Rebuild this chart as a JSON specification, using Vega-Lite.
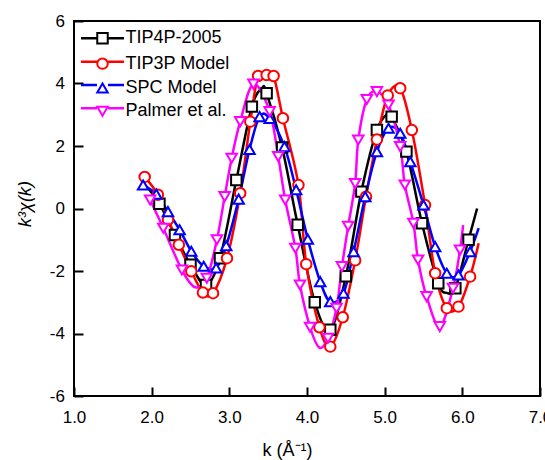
{
  "$schema": "https://vega.github.io/schema/vega-lite/v6.json",
  "width": 466,
  "height": 375,
  "autosize": "none",
  "padding": {"left": 74, "top": 21, "right": 5, "bottom": 64},
  "config": {
    "font": "Liberation Sans",
    "view": {"stroke": "#000000", "strokeWidth": 2},
    "axis": {"grid": false, "domain": false, "ticks": true, "tickColor": "#000000", "tickWidth": 2, "tickSize": 9, "offset": -9, "labelFontSize": 17, "labelColor": "black", "titleColor": "black", "titleFontSize": 18, "titleFontWeight": "normal", "labelFlush": false}
  },
  "datasets": {
    "markers": [
      {"s": "TIP4P-2005", "k": 2.10, "v": 0.15}, {"s": "TIP4P-2005", "k": 2.30, "v": -0.85}, {"s": "TIP4P-2005", "k": 2.50, "v": -1.80}, {"s": "TIP4P-2005", "k": 2.70, "v": -2.45}, {"s": "TIP4P-2005", "k": 2.88, "v": -1.59}, {"s": "TIP4P-2005", "k": 3.09, "v": 0.91}, {"s": "TIP4P-2005", "k": 3.29, "v": 3.26}, {"s": "TIP4P-2005", "k": 3.48, "v": 3.69}, {"s": "TIP4P-2005", "k": 3.68, "v": 1.95}, {"s": "TIP4P-2005", "k": 3.88, "v": -0.52}, {"s": "TIP4P-2005", "k": 4.10, "v": -3.00}, {"s": "TIP4P-2005", "k": 4.30, "v": -3.88}, {"s": "TIP4P-2005", "k": 4.50, "v": -2.17}, {"s": "TIP4P-2005", "k": 4.70, "v": 0.54}, {"s": "TIP4P-2005", "k": 4.90, "v": 2.51}, {"s": "TIP4P-2005", "k": 5.09, "v": 2.94}, {"s": "TIP4P-2005", "k": 5.28, "v": 1.82}, {"s": "TIP4P-2005", "k": 5.48, "v": -0.47}, {"s": "TIP4P-2005", "k": 5.69, "v": -2.39}, {"s": "TIP4P-2005", "k": 5.91, "v": -2.55}, {"s": "TIP4P-2005", "k": 6.08, "v": -1.00},
      {"s": "TIP3P Model", "k": 1.91, "v": 1.01}, {"s": "TIP3P Model", "k": 2.08, "v": 0.44}, {"s": "TIP3P Model", "k": 2.21, "v": -0.36}, {"s": "TIP3P Model", "k": 2.35, "v": -1.16}, {"s": "TIP3P Model", "k": 2.51, "v": -2.01}, {"s": "TIP3P Model", "k": 2.66, "v": -2.69}, {"s": "TIP3P Model", "k": 2.79, "v": -2.71}, {"s": "TIP3P Model", "k": 2.97, "v": -1.59}, {"s": "TIP3P Model", "k": 3.14, "v": 0.49}, {"s": "TIP3P Model", "k": 3.27, "v": 2.78}, {"s": "TIP3P Model", "k": 3.37, "v": 4.24}, {"s": "TIP3P Model", "k": 3.48, "v": 4.27}, {"s": "TIP3P Model", "k": 3.57, "v": 4.24}, {"s": "TIP3P Model", "k": 3.69, "v": 2.89}, {"s": "TIP3P Model", "k": 3.89, "v": 0.75}, {"s": "TIP3P Model", "k": 3.99, "v": -1.78}, {"s": "TIP3P Model", "k": 4.16, "v": -3.80}, {"s": "TIP3P Model", "k": 4.30, "v": -4.42}, {"s": "TIP3P Model", "k": 4.46, "v": -3.48}, {"s": "TIP3P Model", "k": 4.62, "v": -1.66}, {"s": "TIP3P Model", "k": 4.76, "v": 0.38}, {"s": "TIP3P Model", "k": 4.90, "v": 2.21}, {"s": "TIP3P Model", "k": 5.04, "v": 3.62}, {"s": "TIP3P Model", "k": 5.20, "v": 3.85}, {"s": "TIP3P Model", "k": 5.35, "v": 2.51}, {"s": "TIP3P Model", "k": 5.52, "v": 0.11}, {"s": "TIP3P Model", "k": 5.65, "v": -2.07}, {"s": "TIP3P Model", "k": 5.80, "v": -3.19}, {"s": "TIP3P Model", "k": 5.95, "v": -3.14}, {"s": "TIP3P Model", "k": 6.10, "v": -2.18},
      {"s": "SPC Model", "k": 1.89, "v": 0.75}, {"s": "SPC Model", "k": 2.06, "v": 0.46}, {"s": "SPC Model", "k": 2.21, "v": -0.10}, {"s": "SPC Model", "k": 2.36, "v": -0.68}, {"s": "SPC Model", "k": 2.51, "v": -1.37}, {"s": "SPC Model", "k": 2.67, "v": -1.85}, {"s": "SPC Model", "k": 2.83, "v": -1.90}, {"s": "SPC Model", "k": 2.96, "v": -1.19}, {"s": "SPC Model", "k": 3.12, "v": 0.30}, {"s": "SPC Model", "k": 3.26, "v": 1.89}, {"s": "SPC Model", "k": 3.39, "v": 2.94}, {"s": "SPC Model", "k": 3.52, "v": 2.88}, {"s": "SPC Model", "k": 3.71, "v": 1.98}, {"s": "SPC Model", "k": 3.86, "v": 0.60}, {"s": "SPC Model", "k": 4.01, "v": -0.98}, {"s": "SPC Model", "k": 4.17, "v": -2.34}, {"s": "SPC Model", "k": 4.30, "v": -2.98}, {"s": "SPC Model", "k": 4.47, "v": -2.71}, {"s": "SPC Model", "k": 4.60, "v": -1.38}, {"s": "SPC Model", "k": 4.75, "v": 0.38}, {"s": "SPC Model", "k": 4.90, "v": 1.82}, {"s": "SPC Model", "k": 5.05, "v": 2.57}, {"s": "SPC Model", "k": 5.20, "v": 2.41}, {"s": "SPC Model", "k": 5.33, "v": 1.50}, {"s": "SPC Model", "k": 5.50, "v": 0.11}, {"s": "SPC Model", "k": 5.65, "v": -1.22}, {"s": "SPC Model", "k": 5.80, "v": -2.07}, {"s": "SPC Model", "k": 5.95, "v": -2.13}, {"s": "SPC Model", "k": 6.10, "v": -1.38},
      {"s": "Palmer et al.", "k": 1.98, "v": 0.27}, {"s": "Palmer et al.", "k": 2.15, "v": -0.63}, {"s": "Palmer et al.", "k": 2.39, "v": -1.97}, {"s": "Palmer et al.", "k": 2.71, "v": -2.23}, {"s": "Palmer et al.", "k": 2.84, "v": -1.00}, {"s": "Palmer et al.", "k": 2.94, "v": 0.38}, {"s": "Palmer et al.", "k": 3.03, "v": 1.61}, {"s": "Palmer et al.", "k": 3.14, "v": 2.78}, {"s": "Palmer et al.", "k": 3.31, "v": 3.98}, {"s": "Palmer et al.", "k": 3.52, "v": 3.10}, {"s": "Palmer et al.", "k": 3.63, "v": 1.66}, {"s": "Palmer et al.", "k": 3.72, "v": 0.27}, {"s": "Palmer et al.", "k": 3.85, "v": -1.27}, {"s": "Palmer et al.", "k": 3.91, "v": -2.45}, {"s": "Palmer et al.", "k": 4.04, "v": -3.80}, {"s": "Palmer et al.", "k": 4.27, "v": -4.15}, {"s": "Palmer et al.", "k": 4.38, "v": -3.19}, {"s": "Palmer et al.", "k": 4.45, "v": -1.86}, {"s": "Palmer et al.", "k": 4.53, "v": -0.57}, {"s": "Palmer et al.", "k": 4.62, "v": 0.80}, {"s": "Palmer et al.", "k": 4.66, "v": 2.19}, {"s": "Palmer et al.", "k": 4.77, "v": 3.49}, {"s": "Palmer et al.", "k": 4.90, "v": 3.74}, {"s": "Palmer et al.", "k": 5.05, "v": 3.31}, {"s": "Palmer et al.", "k": 5.20, "v": 1.98}, {"s": "Palmer et al.", "k": 5.26, "v": 0.75}, {"s": "Palmer et al.", "k": 5.37, "v": -0.47}, {"s": "Palmer et al.", "k": 5.43, "v": -1.65}, {"s": "Palmer et al.", "k": 5.54, "v": -2.82}, {"s": "Palmer et al.", "k": 5.71, "v": -3.78}, {"s": "Palmer et al.", "k": 5.88, "v": -2.55}, {"s": "Palmer et al.", "k": 5.97, "v": -1.33}
    ],
    "curves": [
      {"s": "TIP4P-2005", "k": 1.90, "v": 0.80}, {"s": "TIP4P-2005", "k": 2.10, "v": 0.15}, {"s": "TIP4P-2005", "k": 2.30, "v": -0.85}, {"s": "TIP4P-2005", "k": 2.50, "v": -1.80}, {"s": "TIP4P-2005", "k": 2.70, "v": -2.45}, {"s": "TIP4P-2005", "k": 2.88, "v": -1.59}, {"s": "TIP4P-2005", "k": 3.09, "v": 0.91}, {"s": "TIP4P-2005", "k": 3.29, "v": 3.26}, {"s": "TIP4P-2005", "k": 3.42, "v": 3.85}, {"s": "TIP4P-2005", "k": 3.48, "v": 3.69}, {"s": "TIP4P-2005", "k": 3.68, "v": 1.95}, {"s": "TIP4P-2005", "k": 3.88, "v": -0.52}, {"s": "TIP4P-2005", "k": 4.10, "v": -3.00}, {"s": "TIP4P-2005", "k": 4.30, "v": -3.88}, {"s": "TIP4P-2005", "k": 4.50, "v": -2.17}, {"s": "TIP4P-2005", "k": 4.70, "v": 0.54}, {"s": "TIP4P-2005", "k": 4.90, "v": 2.51}, {"s": "TIP4P-2005", "k": 5.05, "v": 3.05}, {"s": "TIP4P-2005", "k": 5.09, "v": 2.94}, {"s": "TIP4P-2005", "k": 5.28, "v": 1.82}, {"s": "TIP4P-2005", "k": 5.48, "v": -0.47}, {"s": "TIP4P-2005", "k": 5.69, "v": -2.39}, {"s": "TIP4P-2005", "k": 5.80, "v": -2.70}, {"s": "TIP4P-2005", "k": 5.91, "v": -2.55}, {"s": "TIP4P-2005", "k": 6.08, "v": -1.00}, {"s": "TIP4P-2005", "k": 6.19, "v": 0.00},
      {"s": "TIP3P Model", "k": 1.91, "v": 1.01}, {"s": "TIP3P Model", "k": 2.08, "v": 0.44}, {"s": "TIP3P Model", "k": 2.21, "v": -0.36}, {"s": "TIP3P Model", "k": 2.35, "v": -1.16}, {"s": "TIP3P Model", "k": 2.51, "v": -2.01}, {"s": "TIP3P Model", "k": 2.66, "v": -2.69}, {"s": "TIP3P Model", "k": 2.79, "v": -2.71}, {"s": "TIP3P Model", "k": 2.97, "v": -1.59}, {"s": "TIP3P Model", "k": 3.14, "v": 0.49}, {"s": "TIP3P Model", "k": 3.27, "v": 2.78}, {"s": "TIP3P Model", "k": 3.37, "v": 4.24}, {"s": "TIP3P Model", "k": 3.48, "v": 4.27}, {"s": "TIP3P Model", "k": 3.57, "v": 4.24}, {"s": "TIP3P Model", "k": 3.69, "v": 2.89}, {"s": "TIP3P Model", "k": 3.89, "v": 0.75}, {"s": "TIP3P Model", "k": 3.99, "v": -1.78}, {"s": "TIP3P Model", "k": 4.16, "v": -3.80}, {"s": "TIP3P Model", "k": 4.30, "v": -4.42}, {"s": "TIP3P Model", "k": 4.46, "v": -3.48}, {"s": "TIP3P Model", "k": 4.62, "v": -1.66}, {"s": "TIP3P Model", "k": 4.76, "v": 0.38}, {"s": "TIP3P Model", "k": 4.90, "v": 2.21}, {"s": "TIP3P Model", "k": 5.04, "v": 3.62}, {"s": "TIP3P Model", "k": 5.20, "v": 3.85}, {"s": "TIP3P Model", "k": 5.35, "v": 2.51}, {"s": "TIP3P Model", "k": 5.52, "v": 0.11}, {"s": "TIP3P Model", "k": 5.65, "v": -2.07}, {"s": "TIP3P Model", "k": 5.80, "v": -3.19}, {"s": "TIP3P Model", "k": 5.95, "v": -3.14}, {"s": "TIP3P Model", "k": 6.10, "v": -2.18}, {"s": "TIP3P Model", "k": 6.21, "v": -1.11},
      {"s": "SPC Model", "k": 1.89, "v": 0.75}, {"s": "SPC Model", "k": 2.06, "v": 0.46}, {"s": "SPC Model", "k": 2.21, "v": -0.10}, {"s": "SPC Model", "k": 2.36, "v": -0.68}, {"s": "SPC Model", "k": 2.51, "v": -1.37}, {"s": "SPC Model", "k": 2.67, "v": -1.85}, {"s": "SPC Model", "k": 2.83, "v": -1.90}, {"s": "SPC Model", "k": 2.96, "v": -1.19}, {"s": "SPC Model", "k": 3.12, "v": 0.30}, {"s": "SPC Model", "k": 3.26, "v": 1.89}, {"s": "SPC Model", "k": 3.39, "v": 2.94}, {"s": "SPC Model", "k": 3.52, "v": 2.88}, {"s": "SPC Model", "k": 3.71, "v": 1.98}, {"s": "SPC Model", "k": 3.86, "v": 0.60}, {"s": "SPC Model", "k": 4.01, "v": -0.98}, {"s": "SPC Model", "k": 4.17, "v": -2.34}, {"s": "SPC Model", "k": 4.30, "v": -2.98}, {"s": "SPC Model", "k": 4.47, "v": -2.71}, {"s": "SPC Model", "k": 4.60, "v": -1.38}, {"s": "SPC Model", "k": 4.75, "v": 0.38}, {"s": "SPC Model", "k": 4.90, "v": 1.82}, {"s": "SPC Model", "k": 5.05, "v": 2.57}, {"s": "SPC Model", "k": 5.20, "v": 2.41}, {"s": "SPC Model", "k": 5.33, "v": 1.50}, {"s": "SPC Model", "k": 5.50, "v": 0.11}, {"s": "SPC Model", "k": 5.65, "v": -1.22}, {"s": "SPC Model", "k": 5.80, "v": -2.07}, {"s": "SPC Model", "k": 5.95, "v": -2.13}, {"s": "SPC Model", "k": 6.10, "v": -1.38}, {"s": "SPC Model", "k": 6.21, "v": -0.63},
      {"s": "Palmer et al.", "k": 1.98, "v": 0.27}, {"s": "Palmer et al.", "k": 2.15, "v": -0.63}, {"s": "Palmer et al.", "k": 2.39, "v": -1.97}, {"s": "Palmer et al.", "k": 2.56, "v": -2.52}, {"s": "Palmer et al.", "k": 2.71, "v": -2.23}, {"s": "Palmer et al.", "k": 2.84, "v": -1.00}, {"s": "Palmer et al.", "k": 2.94, "v": 0.38}, {"s": "Palmer et al.", "k": 3.03, "v": 1.61}, {"s": "Palmer et al.", "k": 3.14, "v": 2.78}, {"s": "Palmer et al.", "k": 3.31, "v": 3.98}, {"s": "Palmer et al.", "k": 3.52, "v": 3.10}, {"s": "Palmer et al.", "k": 3.63, "v": 1.66}, {"s": "Palmer et al.", "k": 3.72, "v": 0.27}, {"s": "Palmer et al.", "k": 3.85, "v": -1.27}, {"s": "Palmer et al.", "k": 3.91, "v": -2.45}, {"s": "Palmer et al.", "k": 4.04, "v": -3.80}, {"s": "Palmer et al.", "k": 4.16, "v": -4.45}, {"s": "Palmer et al.", "k": 4.27, "v": -4.15}, {"s": "Palmer et al.", "k": 4.38, "v": -3.19}, {"s": "Palmer et al.", "k": 4.45, "v": -1.86}, {"s": "Palmer et al.", "k": 4.53, "v": -0.57}, {"s": "Palmer et al.", "k": 4.62, "v": 0.80}, {"s": "Palmer et al.", "k": 4.66, "v": 2.19}, {"s": "Palmer et al.", "k": 4.77, "v": 3.49}, {"s": "Palmer et al.", "k": 4.90, "v": 3.74}, {"s": "Palmer et al.", "k": 5.05, "v": 3.31}, {"s": "Palmer et al.", "k": 5.20, "v": 1.98}, {"s": "Palmer et al.", "k": 5.26, "v": 0.75}, {"s": "Palmer et al.", "k": 5.37, "v": -0.47}, {"s": "Palmer et al.", "k": 5.43, "v": -1.65}, {"s": "Palmer et al.", "k": 5.54, "v": -2.82}, {"s": "Palmer et al.", "k": 5.71, "v": -3.78}, {"s": "Palmer et al.", "k": 5.88, "v": -2.55}, {"s": "Palmer et al.", "k": 5.97, "v": -1.33}, {"s": "Palmer et al.", "k": 6.01, "v": -0.53}
    ]
  },
  "resolve": {"legend": {"color": "independent"}},
  "layer": [
    {
      "data": {"name": "curves"},
      "mark": {"type": "line", "strokeWidth": 2.5, "interpolate": "cardinal"},
      "encoding": {
        "x": {"field": "k", "type": "quantitative", "scale": {"domain": [1, 7], "nice": false, "zero": false},
          "axis": {"orient": "bottom", "values": [1, 2, 3, 4, 5, 6, 7], "labelPadding": 13, "title": "k (Å⁻¹)", "titleX": 213, "titleY": 68, "titleBaseline": "alphabetic", "titleAlign": "center"}},
        "y": {"field": "v", "type": "quantitative", "scale": {"domain": [-6, 6], "nice": false, "zero": false},
          "axis": {"orient": "left", "values": [-6, -4, -2, 0, 2, 4, 6], "labelPadding": 9.6, "labelExpr": "'' + datum.value", "title": "k³χ(k)", "titleX": -58, "titleY": 182.5, "titleAngle": -90, "titleBaseline": "middle", "titleAlign": "center", "titleFontStyle": "italic"}},
        "color": {"field": "s", "type": "nominal",
          "scale": {"domain": ["TIP4P-2005", "TIP3P Model", "SPC Model", "Palmer et al."], "range": ["#000000", "#ff0000", "#0000ff", "#ff00ff"]},
          "legend": {"orient": "none", "legendX": 19.5, "legendY": 8.3, "title": null, "symbolType": "M-4.1,0L-1.05,0M1.05,0L4.1,0", "symbolSize": 110, "symbolStrokeWidth": 2.5, "labelExpr": "''", "labelFontSize": 18, "rowPadding": 5.33, "padding": 0}}
      }
    },
    {
      "data": {"name": "markers"},
      "mark": {"type": "point", "filled": true, "fill": "white", "size": 110, "strokeWidth": 2, "opacity": 1},
      "encoding": {
        "x": {"field": "k", "type": "quantitative"},
        "y": {"field": "v", "type": "quantitative"},
        "stroke": {"field": "s", "type": "nominal",
          "scale": {"domain": ["TIP4P-2005", "TIP3P Model", "SPC Model", "Palmer et al."], "range": ["#000000", "#ff0000", "#0000ff", "#ff00ff"]},
          "legend": {"orient": "none", "legendX": 19.5, "legendY": 8.3, "title": null, "labelFontSize": 18, "labelColor": "black", "labelOffset": 14, "labelLimit": 300, "symbolStrokeWidth": 2, "symbolSize": 110, "symbolFillColor": "white", "rowPadding": 5.33, "padding": 0}},
        "shape": {"field": "s", "type": "nominal",
          "scale": {"domain": ["TIP4P-2005", "TIP3P Model", "SPC Model", "Palmer et al."], "range": ["square", "circle", "triangle-up", "triangle-down"]},
          "legend": {"orient": "none", "legendX": 19.5, "legendY": 8.3, "title": null, "labelFontSize": 18, "labelColor": "black", "labelOffset": 14, "labelLimit": 300, "symbolStrokeWidth": 2, "symbolSize": 110, "symbolFillColor": "white", "rowPadding": 5.33, "padding": 0}}
      }
    }
  ]
}
